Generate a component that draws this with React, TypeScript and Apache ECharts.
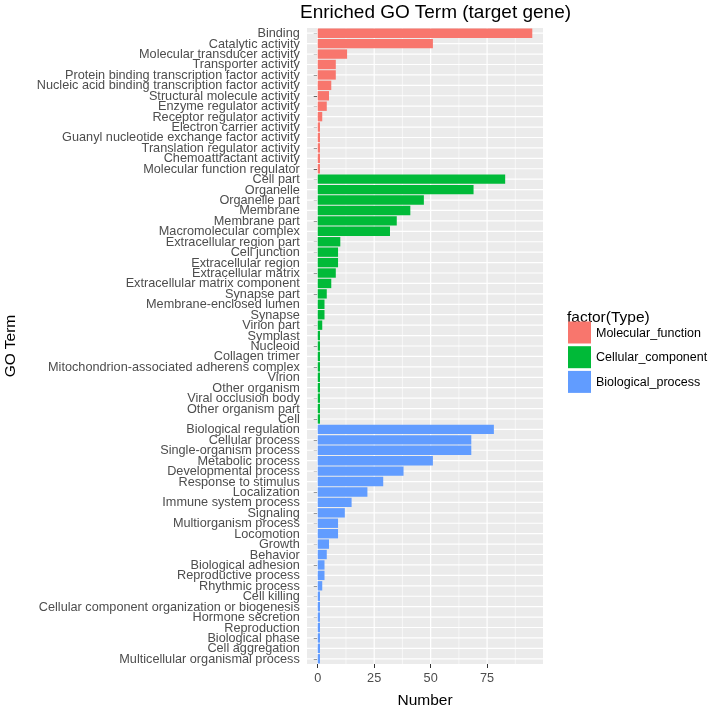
import React, { useEffect, useRef } from "react";
import * as echarts from "echarts";

const mfTerms = [
  "Binding",
  "Catalytic activity",
  "Molecular transducer activity",
  "Transporter activity",
  "Protein binding transcription factor activity",
  "Nucleic acid binding transcription factor activity",
  "Structural molecule activity",
  "Enzyme regulator activity",
  "Receptor regulator activity",
  "Electron carrier activity",
  "Guanyl nucleotide exchange factor activity",
  "Translation regulator activity",
  "Chemoattractant activity",
  "Molecular function regulator",
];
const mfCounts = [95, 51, 13, 8, 8, 6, 5, 4, 2, 1, 1, 1, 1, 1];

const ccTerms = [
  "Cell part",
  "Organelle",
  "Organelle part",
  "Membrane",
  "Membrane part",
  "Macromolecular complex",
  "Extracellular region part",
  "Cell junction",
  "Extracellular region",
  "Extracellular matrix",
  "Extracellular matrix component",
  "Synapse part",
  "Membrane-enclosed lumen",
  "Synapse",
  "Virion part",
  "Symplast",
  "Nucleoid",
  "Collagen trimer",
  "Mitochondrion-associated adherens complex",
  "Virion",
  "Other organism",
  "Viral occlusion body",
  "Other organism part",
  "Cell",
];
const ccCounts = [83, 69, 47, 41, 35, 32, 10, 9, 9, 8, 6, 4, 3, 3, 2, 1, 1, 1, 1, 1, 1, 1, 1, 1];

const bpTerms = [
  "Biological regulation",
  "Cellular process",
  "Single-organism process",
  "Metabolic process",
  "Developmental process",
  "Response to stimulus",
  "Localization",
  "Immune system process",
  "Signaling",
  "Multiorganism process",
  "Locomotion",
  "Growth",
  "Behavior",
  "Biological adhesion",
  "Reproductive process",
  "Rhythmic process",
  "Cell killing",
  "Cellular component organization or biogenesis",
  "Hormone secretion",
  "Reproduction",
  "Biological phase",
  "Cell aggregation",
  "Multicellular organismal process",
];
const bpCounts = [78, 68, 68, 51, 38, 29, 22, 15, 12, 9, 9, 5, 4, 3, 3, 2, 1, 1, 1, 1, 1, 1, 1];

const typeNames = ["Molecular_function", "Cellular_component", "Biological_process"];
const typeColors = ["#F8766D", "#00BA38", "#619CFF"];
const xMajorTicks = [0, 25, 50, 75];
const xMinorTicks = [12.5, 37.5, 62.5, 87.5];

const FONT = "'Liberation Sans', Arial, Helvetica, sans-serif";

export default function App() {
  const ref = useRef<HTMLDivElement>(null);

  useEffect(() => {
    if (!ref.current) return;
    const chart = echarts.init(ref.current, undefined, { renderer: "svg" });

    const categories = [...mfTerms, ...ccTerms, ...bpTerms];
    const groups = [
      { terms: mfTerms, counts: mfCounts },
      { terms: ccTerms, counts: ccCounts },
      { terms: bpTerms, counts: bpCounts },
    ];
    let offset = 0;
    const barSeries = groups.map((g, gi) => {
      const start = offset;
      offset += g.terms.length;
      return {
        name: typeNames[gi],
        type: "bar",
        stack: "go",
        z: 3,
        barCategoryGap: "10%",
        itemStyle: { color: typeColors[gi] },
        data: categories.map((_, i) =>
          i >= start && i < start + g.terms.length ? g.counts[i - start] : "-"
        ),
      };
    });

    const vLine = (w: number) => (params: any, api: any) => {
      const x = api.coord([api.value(0), 0])[0];
      const cs = params.coordSys;
      return {
        type: "line",
        shape: { x1: x, y1: cs.y, x2: x, y2: cs.y + cs.height },
        style: { stroke: "#FFFFFF", lineWidth: w },
      };
    };

    chart.setOption({
      animation: false,
      textStyle: { fontFamily: FONT },
      title: {
        text: "Enriched GO Term (target gene)",
        left: 300,
        top: 2,
        padding: 0,
        textStyle: { fontFamily: FONT, fontSize: 19, fontWeight: "normal", color: "#000" },
      },
      legend: {
        data: typeNames,
        orient: "vertical",
        left: 568,
        top: 321.5,
        padding: 0,
        icon: "rect",
        itemWidth: 23,
        itemHeight: 22,
        itemGap: 2.7,
        selectedMode: false,
        textStyle: { fontFamily: FONT, fontSize: 12.5, color: "#000" },
      },
      graphic: [
        {
          type: "text",
          left: 567,
          top: 308,
          style: { text: "factor(Type)", fontFamily: FONT, fontSize: 15.5, fill: "#000" },
        },
      ],
      grid: {
        left: 300,
        right: 166,
        top: 28,
        height: 641,
        show: true,
        backgroundColor: "#EBEBEB",
        borderWidth: 0,
        containLabel: false,
      },
      xAxis: {
        type: "value",
        min: -4.75,
        max: 99.75,
        name: "Number",
        nameLocation: "middle",
        nameGap: 27,
        nameTextStyle: { fontFamily: FONT, fontSize: 15.5, color: "#000" },
        axisLine: { show: false },
        axisTick: {
          show: true,
          length: 4,
          customValues: xMajorTicks,
          lineStyle: { color: "#333333", width: 1 },
        },
        axisLabel: {
          customValues: xMajorTicks,
          fontFamily: FONT,
          fontSize: 12.7,
          color: "#4D4D4D",
          margin: 7,
        },
        splitLine: { show: false },
      },
      yAxis: {
        type: "category",
        inverse: true,
        data: categories,
        name: "GO Term",
        nameLocation: "middle",
        nameRotate: 90,
        nameGap: 290,
        nameTextStyle: { fontFamily: FONT, fontSize: 15.5, color: "#000" },
        axisLine: { show: false },
        axisTick: {
          show: true,
          alignWithLabel: true,
          length: 4,
          lineStyle: { color: "#333333", width: 1 },
        },
        axisLabel: {
          interval: 0,
          fontFamily: FONT,
          fontSize: 12.7,
          color: "#4D4D4D",
          margin: 7.2,
        },
        splitLine: { show: false },
      },
      series: [
        {
          type: "custom",
          z: 1,
          silent: true,
          renderItem: vLine(0.6),
          data: xMinorTicks.map((v) => [v, 0]),
        },
        {
          type: "custom",
          z: 1,
          silent: true,
          renderItem: vLine(1.2),
          data: xMajorTicks.map((v) => [v, 0]),
        },
        {
          type: "custom",
          z: 1,
          silent: true,
          renderItem: (params: any, api: any) => {
            const y = api.coord([0, api.value(1)])[1];
            const cs = params.coordSys;
            return {
              type: "line",
              shape: { x1: cs.x, y1: y, x2: cs.x + cs.width, y2: y },
              style: { stroke: "#FFFFFF", lineWidth: 1.2 },
            };
          },
          data: categories.map((_, i) => [0, i]),
        },
        ...barSeries,
      ],
    });

    return () => chart.dispose();
  }, []);

  return (
    <div
      ref={ref}
      style={{ position: "fixed", left: 0, top: 0, width: 709, height: 712 }}
    />
  );
}
